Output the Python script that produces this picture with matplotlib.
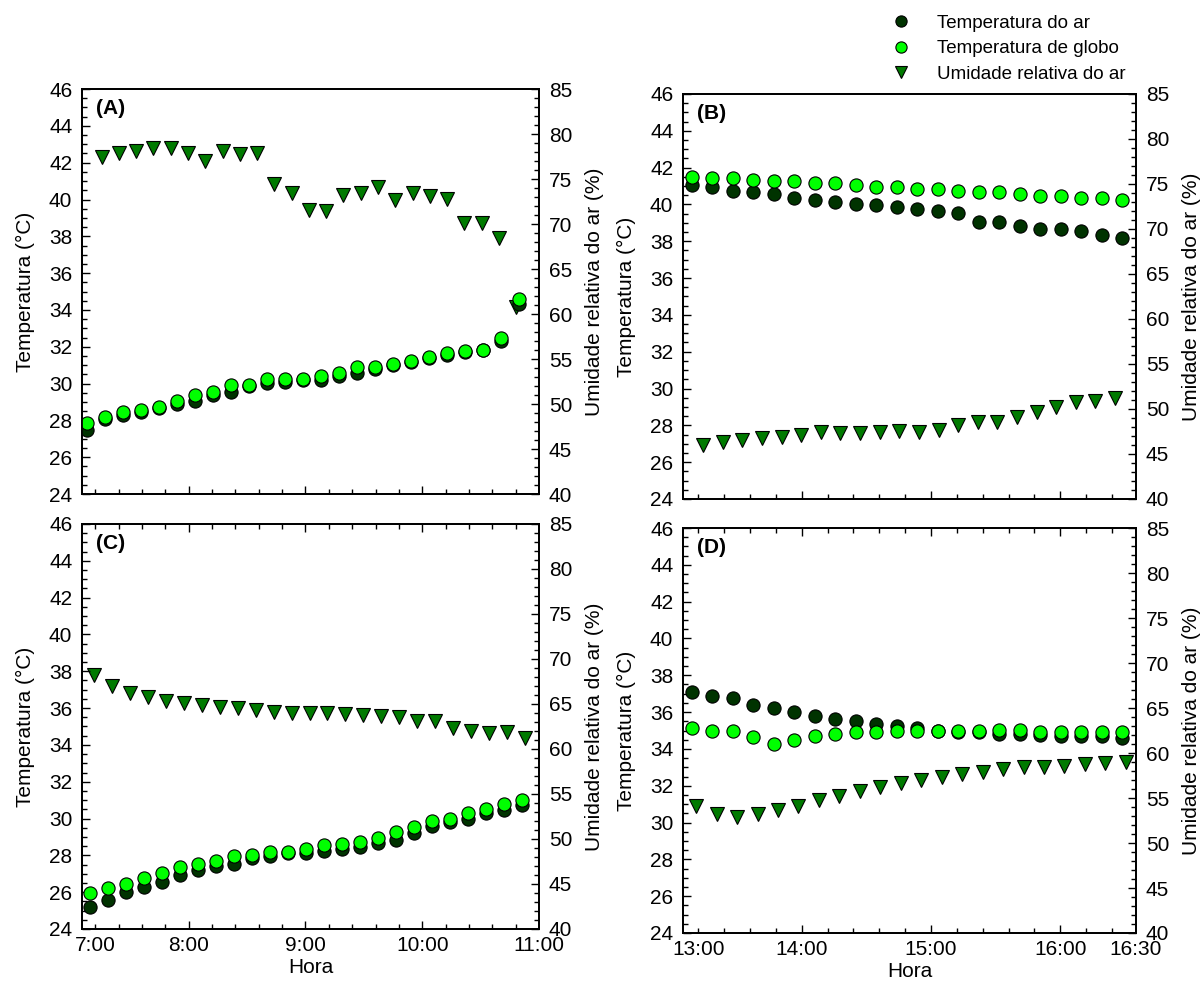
import matplotlib.pyplot as plt
from matplotlib.ticker import FixedLocator, MultipleLocator

plt.rcParams['font.family'] = ['Liberation Sans', 'DejaVu Sans']

# ---- dados (hora decimal) ----
# (A) manha
hora_A = [7.127, 7.281, 7.436, 7.590, 7.744, 7.898, 8.053, 8.207, 8.361, 8.516, 8.670, 8.824, 8.978,
          9.133, 9.287, 9.441, 9.596, 9.750, 9.904, 10.058, 10.213, 10.367, 10.521, 10.676, 10.830]
ar_A = [27.5, 28.05, 28.3, 28.45, 28.65, 28.9, 29.05, 29.4, 29.55, 29.85, 30.05, 30.1, 30.2,
        30.2, 30.4, 30.6, 30.8, 31.0, 31.2, 31.4, 31.55, 31.7, 31.8, 32.3, 34.3]
globo_A = [27.85, 28.2, 28.45, 28.55, 28.75, 29.05, 29.4, 29.55, 29.9, 29.95, 30.25, 30.25, 30.25,
           30.4, 30.55, 30.9, 30.9, 31.05, 31.25, 31.45, 31.65, 31.75, 31.85, 32.5, 34.6]
hora_ur_A = [7.255, 7.403, 7.551, 7.699, 7.847, 7.994, 8.142, 8.290, 8.438, 8.586, 8.734, 8.882, 9.030,
             9.177, 9.325, 9.473, 9.621, 9.769, 9.917, 10.065, 10.213, 10.360, 10.508, 10.656, 10.804]
ur_A = [77.5, 77.85, 78.15, 78.5, 78.4, 77.95, 77.0, 78.15, 77.8, 77.85, 74.5, 73.5, 71.55,
        71.4, 73.2, 73.4, 74.15, 72.7, 73.5, 73.15, 72.8, 70.15, 70.15, 68.5, 60.8]

# (B) tarde
hora_B = [13.149, 13.308, 13.466, 13.625, 13.783, 13.942, 14.100, 14.259, 14.418, 14.576, 14.735,
          14.893, 15.052, 15.210, 15.369, 15.527, 15.686, 15.845, 16.003, 16.162, 16.320, 16.479]
ar_B = [41.05, 40.95, 40.75, 40.65, 40.55, 40.35, 40.25, 40.15, 40.05, 39.95, 39.85,
        39.75, 39.65, 39.55, 39.05, 39.05, 38.85, 38.65, 38.65, 38.55, 38.35, 38.15]
globo_B = [41.5, 41.45, 41.45, 41.35, 41.25, 41.25, 41.15, 41.15, 41.05, 40.95, 40.95,
           40.85, 40.85, 40.75, 40.65, 40.65, 40.55, 40.45, 40.45, 40.35, 40.35, 40.25]
hora_ur_B = [13.237, 13.389, 13.540, 13.692, 13.844, 13.996, 14.147, 14.299, 14.451, 14.602, 14.754,
             14.906, 15.058, 15.209, 15.361, 15.513, 15.664, 15.816, 15.968, 16.119, 16.271, 16.423]
ur_B = [46.05, 46.3, 46.5, 46.8, 46.85, 47.15, 47.4, 47.3, 47.3, 47.4, 47.6,
        47.4, 47.7, 48.2, 48.5, 48.5, 49.1, 49.7, 50.2, 50.8, 50.9, 51.2]

# (C) manha
hora_C = [7.155, 7.309, 7.463, 7.618, 7.772, 7.926, 8.080, 8.234, 8.388, 8.543, 8.697, 8.851, 9.005,
          9.159, 9.313, 9.468, 9.622, 9.776, 9.930, 10.084, 10.238, 10.393, 10.547, 10.701, 10.855]
ar_C = [25.2, 25.6, 26.0, 26.3, 26.55, 26.95, 27.2, 27.4, 27.55, 27.85, 27.95, 28.1, 28.15,
        28.25, 28.35, 28.45, 28.65, 28.85, 29.2, 29.6, 29.8, 30.0, 30.3, 30.45, 30.75]
globo_C = [25.95, 26.25, 26.45, 26.75, 27.05, 27.35, 27.55, 27.7, 27.95, 28.0, 28.2, 28.2, 28.35,
           28.55, 28.6, 28.7, 28.95, 29.25, 29.55, 29.85, 30.0, 30.3, 30.5, 30.8, 31.0]
hora_ur_C = [7.189, 7.343, 7.497, 7.650, 7.804, 7.958, 8.112, 8.266, 8.419, 8.573, 8.727, 8.881, 9.035,
             9.188, 9.342, 9.496, 9.650, 9.804, 9.957, 10.111, 10.265, 10.419, 10.573, 10.726, 10.880]
ur_C = [68.2, 67.0, 66.25, 65.8, 65.35, 65.15, 64.9, 64.7, 64.5, 64.35, 64.15, 64.05, 63.95,
        63.95, 63.9, 63.8, 63.65, 63.5, 63.15, 63.1, 62.3, 62.05, 61.75, 61.85, 61.2]

# (D) tarde
hora_D = hora_B
ar_D = [37.1, 36.9, 36.75, 36.4, 36.2, 36.0, 35.8, 35.65, 35.5, 35.35, 35.25,
        35.15, 35.0, 34.9, 34.9, 34.8, 34.8, 34.75, 34.7, 34.7, 34.7, 34.6]
globo_D = [35.15, 34.95, 34.95, 34.65, 34.25, 34.5, 34.7, 34.8, 34.9, 34.9, 35.0,
           35.0, 35.0, 35.0, 35.0, 35.05, 35.05, 34.9, 34.9, 34.9, 34.9, 34.9]
hora_ur_D = [13.183, 13.341, 13.500, 13.658, 13.816, 13.975, 14.133, 14.291, 14.449, 14.608, 14.766,
             14.924, 15.083, 15.241, 15.399, 15.557, 15.716, 15.874, 16.032, 16.191, 16.349, 16.507]
ur_D = [54.15, 53.2, 52.9, 53.2, 53.65, 54.1, 54.8, 55.25, 55.8, 56.25, 56.65,
        57.0, 57.35, 57.65, 57.85, 58.2, 58.4, 58.5, 58.6, 58.8, 58.9, 59.0]

# eixos de tempo
ticks_manha = [7.2, 8, 9, 10, 11]
labels_manha = ['7:00', '8:00', '9:00', '10:00', '11:00']
lim_manha = (7.087, 11.0)
ticks_tarde = [13.2, 14, 15, 16, 16.585]
labels_tarde = ['13:00', '14:00', '15:00', '16:00', '16:30']
lim_tarde = (13.082, 16.585)

cor_ar = '#003300'
cor_globo = '#00ff00'
cor_ur = '#007a00'
FS = 15

fig = plt.figure(figsize=(12.04, 9.82), dpi=100)


def painel(rect, hora, ar, globo, hora_ur, ur, xlim, xt, xl, letra, baixo):
    ax = fig.add_axes(rect)
    ax2 = ax.twinx()
    ax.set_zorder(ax2.get_zorder() + 1)
    ax.patch.set_visible(False)

    ax2.plot(hora_ur, ur, 'v', ls='none', ms=9.5, mfc=cor_ur, mec='black', mew=0.8)
    l1, = ax.plot(hora, ar, 'o', ls='none', ms=9.5, mfc=cor_ar, mec='black', mew=0.8)
    l2, = ax.plot(hora, globo, 'o', ls='none', ms=9.5, mfc=cor_globo, mec='black', mew=0.8)

    ax.set_xlim(*xlim)
    ax.set_ylim(24, 46)
    ax2.set_ylim(40, 85)
    ax.set_yticks(range(24, 47, 2))
    ax.yaxis.set_minor_locator(MultipleLocator(0.5))
    ax2.set_yticks(range(40, 86, 5))
    ax2.yaxis.set_minor_locator(MultipleLocator(1))
    ax.xaxis.set_major_locator(FixedLocator(xt))
    ax.set_xticklabels(xl)
    ax.xaxis.set_minor_locator(MultipleLocator(0.2))

    ax.tick_params(axis='y', which='both', direction='in', labelsize=FS, pad=7)
    ax.tick_params(axis='y', which='major', length=6, width=1)
    ax.tick_params(axis='y', which='minor', length=3.5, width=1)
    ax2.tick_params(axis='y', which='both', direction='in', labelsize=FS, pad=7)
    ax2.tick_params(axis='y', which='major', length=6, width=1)
    ax2.tick_params(axis='y', which='minor', length=3.5, width=1)
    ax.tick_params(axis='x', which='both', direction='in', top=baixo, bottom=True,
                   labelbottom=baixo, labelsize=FS, pad=5)
    ax.tick_params(axis='x', which='major', length=6, width=1)
    ax.tick_params(axis='x', which='minor', length=3.5, width=1)

    # primeiro rotulo fica sobre um traco menor; o ultimo da tarde fica no canto
    mt = ax.xaxis.get_major_ticks()
    mt[0].tick1line.set_markersize(3.5)
    mt[0].tick2line.set_markersize(3.5)
    if xt[-1] == xlim[1]:
        mt[-1].tick1line.set_markersize(0)
        mt[-1].tick2line.set_markersize(0)

    for a in (ax, ax2):
        for s in a.spines.values():
            s.set_linewidth(1.3)

    ax.set_ylabel('Temperatura (°C)', fontsize=FS, labelpad=10)
    ax2.set_ylabel('Umidade relativa do ar (%)', fontsize=FS, labelpad=9)
    if baixo:
        ax.set_xlabel('Hora', fontsize=FS, labelpad=2)
    ax.text(0.03, 0.975, letra, transform=ax.transAxes, fontsize=FS,
            fontweight='bold', va='top', ha='left')
    return l1, l2, ax2.lines[0]


handles = painel([0.0681, 0.4969, 0.3796, 0.4124], hora_A, ar_A, globo_A, hora_ur_A, ur_A,
                 lim_manha, ticks_manha, labels_manha, '(A)', False)
painel([0.5673, 0.4919, 0.3762, 0.4124], hora_B, ar_B, globo_B, hora_ur_B, ur_B,
       lim_tarde, ticks_tarde, labels_tarde, '(B)', False)
painel([0.0681, 0.0540, 0.3796, 0.4124], hora_C, ar_C, globo_C, hora_ur_C, ur_C,
       lim_manha, ticks_manha, labels_manha, '(C)', True)
painel([0.5673, 0.0499, 0.3762, 0.4124], hora_D, ar_D, globo_D, hora_ur_D, ur_D,
       lim_tarde, ticks_tarde, labels_tarde, '(D)', True)

fig.legend(handles, ['Temperatura do ar', 'Temperatura de globo', 'Umidade relativa do ar'],
           loc='upper left', bbox_to_anchor=(0.7405, 0.985), frameon=False, fontsize=13.5,
           handlelength=1.0, handletextpad=1.42, labelspacing=0.45, borderpad=0,
           borderaxespad=0, markerscale=0.85)

fig.savefig('out.png', dpi=100)
